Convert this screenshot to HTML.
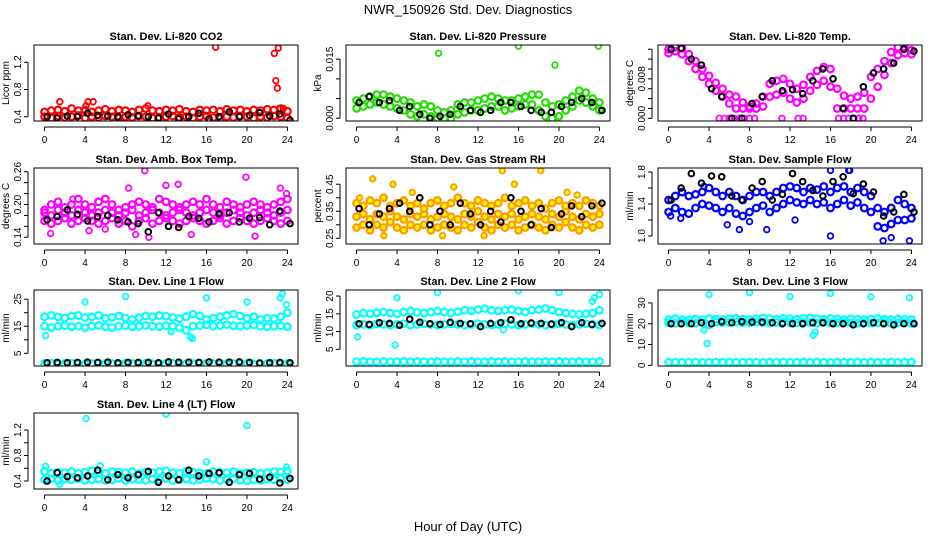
<!DOCTYPE html>
<html><head><meta charset="utf-8"><title>NWR_150926 Std. Dev. Diagnostics</title>
<style>
html,body{margin:0;padding:0;background:#fff;}
svg{display:block;font-family:"Liberation Sans",sans-serif;}
</style></head>
<body>
<svg id="chart" width="936" height="540" viewBox="0 0 936 540">
<rect x="0" y="0" width="936" height="540" fill="#fff"/>
<text x="468" y="14" font-size="13" text-anchor="middle">NWR_150926  Std. Dev. Diagnostics</text>
<text x="468" y="531" font-size="13" text-anchor="middle">Hour of Day (UTC)</text>
</svg>
<script>
// ---- data arrays ----
const hourTicks = [0,4,8,12,16,20,24];
// P1 CO2
const co2Hi=[0.47,0.49,0.5,0.48,0.52,0.49,0.5,0.47,0.49,0.51,0.48,0.5,0.49,0.47,0.5,0.52,0.49,0.48,0.5,0.49,0.51,0.48,0.47,0.5,0.49,0.5,0.48,0.51,0.49,0.5,0.48,0.5,0.49,0.51,0.5,0.52,0.48];
const co2Lo=[0.4,0.38,0.41,0.39,0.4,0.42,0.38,0.4,0.39,0.41,0.4,0.38,0.4,0.39,0.41,0.4,0.38,0.39,0.4,0.41,0.39,0.4,0.38,0.4,0.41,0.39,0.37,0.4,0.39,0.41,0.4,0.38,0.4,0.39,0.41,0.4,0.38];
const co2Black=[0.4,0.38,0.41,0.4,0.45,0.42,0.41,0.4,0.43,0.41,0.4,0.38,0.44,0.37,0.4,0.45,0.37,0.4,0.47,0.4,0.42,0.46,0.41,0.44,0.35];
const co2OutX=[1.5,4.1,4.3,4.8,8.0,10.2,16.9,22.7,22.85,23.0,23.1,23.2,23.6];
const co2OutY=[0.62,0.56,0.62,0.62,0.32,0.56,1.42,1.33,0.93,0.82,1.41,0.52,0.52];
// P2 Pressure
const prHi=[0.0045,0.005,0.0055,0.006,0.006,0.0055,0.005,0.0045,0.004,0.003,0.0035,0.003,0.002,0.0015,0.002,0.0035,0.004,0.004,0.0045,0.005,0.0055,0.005,0.0045,0.0045,0.005,0.0055,0.006,0.006,0.004,0.003,0.0035,0.0045,0.0055,0.007,0.0065,0.005,0.004];
const prLo=[0.0025,0.003,0.0035,0.004,0.0035,0.003,0.0025,0.002,0.001,0.0005,0.001,0.0005,0,0,0,0.001,0.0015,0.002,0.002,0.0025,0.003,0.003,0.002,0.0025,0.003,0.0035,0.0035,0.002,0.0005,0,0.0005,0.002,0.003,0.0045,0.004,0.003,0.002];
const prBlack=[0.004,0.0055,0.004,0.0045,0.002,0.003,0.001,0,0.0005,0.001,0.003,0.002,0.0015,0.002,0.004,0.004,0.003,0.002,0.0015,0.0015,0.003,0.004,0.005,0.004,0.002];
const prOutX=[8.1,16,19.6,23.9];
const prOutY=[0.0165,0.0183,0.0135,0.0183];
// P3 Temp (tick units)
const tpHi=[7.0,7.2,7.1,6.5,5.8,5.0,4.3,3.6,3.0,2.4,2.2,1.6,1.2,1.5,2.2,3.5,3.8,4.0,3.5,3.0,3.4,4.2,4.8,5.2,5.0,3.0,2.3,2.0,2.2,2.6,4.2,5.0,5.8,6.7,7.2,7.1,6.9];
const tpLo=[6.6,6.8,6.5,5.8,5.0,4.2,3.5,2.8,2.2,1.5,1.0,1.0,1.0,1.0,1.2,2.2,2.4,2.6,2.0,1.6,2.0,2.8,3.4,3.8,3.2,1.0,1.0,1.0,1.0,1.0,2.0,3.2,4.4,5.6,6.4,6.6,6.5];
const tpZeroX=[5,5.5,6,6.5,7,7.5,8,8.5,11.2,12.8,13.3,16.8,17.3,17.8,18.3,18.8,19.2];
const tpZeroY=[0,0,0,0,0,0,0,0,0,0,0,0,0,0,0,0,0];
const tpBlack=[7.0,7.1,6.0,5.4,3.0,2.2,0,0,1.5,2.2,3.8,2.8,2.9,2.5,3.8,5.0,4.0,1.0,0,3.2,4.6,5.0,5.6,7.0,6.8];
// P4 Amb box temp
const abHi=[0.19,0.2,0.205,0.195,0.2,0.21,0.2,0.195,0.205,0.21,0.2,0.19,0.195,0.2,0.205,0.2,0.195,0.21,0.205,0.2,0.195,0.2,0.205,0.2,0.21,0.2,0.195,0.205,0.2,0.195,0.2,0.205,0.2,0.195,0.2,0.205,0.21];
const abMid=[0.185,0.18,0.19,0.185,0.18,0.19,0.185,0.18,0.185,0.19,0.185,0.18,0.185,0.19,0.18,0.185,0.19,0.185,0.18,0.185,0.19,0.185,0.18,0.185,0.19,0.185,0.18,0.185,0.19,0.185,0.18,0.185,0.19,0.185,0.18,0.185,0.19];
const abLo=[0.17,0.165,0.17,0.175,0.165,0.17,0.175,0.17,0.165,0.17,0.175,0.165,0.17,0.16,0.17,0.175,0.165,0.17,0.175,0.17,0.165,0.17,0.175,0.17,0.165,0.17,0.175,0.165,0.17,0.175,0.17,0.165,0.17,0.175,0.17,0.165,0.17];
const abOutX=[0.6,2.8,4.4,6.0,8.3,9.0,9.9,10.3,12.0,13.2,14.5,19.9,20.8,23.3,23.9];
const abOutY=[0.147,0.21,0.152,0.155,0.23,0.145,0.262,0.14,0.235,0.237,0.145,0.25,0.142,0.23,0.22];
const abBlack=[0.172,0.178,0.19,0.182,0.17,0.178,0.18,0.172,0.168,0.165,0.15,0.185,0.16,0.158,0.178,0.175,0.168,0.183,0.185,0.168,0.175,0.176,0.163,0.188,0.165];
// P5 RH
const rhHi=[0.38,0.37,0.39,0.38,0.4,0.37,0.38,0.39,0.37,0.38,0.36,0.38,0.39,0.37,0.38,0.4,0.38,0.37,0.39,0.38,0.37,0.38,0.4,0.37,0.38,0.39,0.37,0.38,0.36,0.38,0.39,0.37,0.38,0.37,0.39,0.38,0.37];
const rhMid=[0.33,0.34,0.32,0.34,0.33,0.35,0.33,0.32,0.34,0.33,0.34,0.32,0.33,0.34,0.33,0.32,0.34,0.33,0.35,0.33,0.32,0.34,0.33,0.34,0.32,0.33,0.34,0.33,0.32,0.34,0.33,0.35,0.33,0.32,0.34,0.33,0.34];
const rhLo=[0.29,0.3,0.28,0.3,0.29,0.31,0.29,0.28,0.3,0.29,0.3,0.28,0.29,0.3,0.29,0.28,0.3,0.29,0.31,0.29,0.28,0.3,0.29,0.3,0.28,0.29,0.3,0.29,0.28,0.3,0.29,0.31,0.29,0.28,0.3,0.29,0.3];
const rhOutX=[1.6,3.6,9.6,14.4,15.6,18.2,20.8,12.6,2.7,8.5,0.3,5.5,21.8];
const rhOutY=[0.47,0.45,0.44,0.5,0.45,0.5,0.42,0.26,0.26,0.26,0.4,0.42,0.41];
const rhBlack=[0.36,0.3,0.34,0.36,0.38,0.35,0.4,0.3,0.35,0.3,0.38,0.34,0.3,0.35,0.31,0.4,0.35,0.3,0.36,0.29,0.34,0.37,0.33,0.37,0.38];
// P6 Sample flow
const sfHi=[1.45,1.5,1.55,1.5,1.52,1.55,1.6,1.55,1.5,1.55,1.5,1.45,1.5,1.55,1.55,1.5,1.55,1.6,1.62,1.6,1.55,1.6,1.58,1.62,1.55,1.6,1.62,1.55,1.6,1.55,1.5,1.35,1.3,1.35,1.45,1.4,1.35];
const sfLo=[1.3,1.35,1.3,1.28,1.35,1.4,1.38,1.35,1.3,1.35,1.28,1.25,1.3,1.35,1.38,1.3,1.35,1.4,1.45,1.42,1.4,1.45,1.4,1.42,1.35,1.4,1.45,1.38,1.42,1.35,1.3,1.12,1.1,1.15,1.2,1.2,1.22];
const sfOutX=[0.2,1.2,5.8,7,8,9.7,12.5,16,17.9,21.2,22,23.8,3.5,16,17.8];
const sfOutY=[1.25,1.22,1.14,1.08,1.18,1.08,1.2,1.0,1.82,0.94,0.98,0.94,1.62,1.82,1.82];
const sfBlack=[1.45,1.6,1.78,1.66,1.75,1.74,1.5,1.45,1.6,1.68,1.45,1.52,1.78,1.68,1.57,1.5,1.68,1.74,1.53,1.65,1.55,1.25,1.3,1.52,1.3];
// P7 Line 1
const l1Hi=[18.5,19,18.5,18,18.8,19,18.2,18.5,19,18,18.3,18.8,18,17.5,18.2,18.8,18.5,19,18.7,18.2,17.8,18.5,19.5,18.8,17.5,18,18.5,19,19.5,18.8,18,18.5,17.5,18,17.8,18.5,20];
const l1Mid=[15,14.5,15,15.2,14.8,15,14.5,15,15.3,14.8,14.5,15,15.2,14.8,15,15.3,15,14.8,15.2,15,14.5,13.5,15,15.2,15.5,15,15.3,15.6,15.2,15,15.3,15.5,15,14.8,15,15.2,14.8];
const l1Base=[1.2,1.3,1.1,1.2,1.3,1.2,1.1,1.2,1.3,1.2,1.2,1.1,1.3,1.2,1.2,1.3,1.1,1.2,1.2,1.3,1.2,1.1,1.2,1.3,1.2,1.2,1.3,1.1,1.2,1.3,1.2,1.1,1.2,1.2,1.3,1.2,1.2];
const l1OutX=[0.1,4.0,8.0,14.4,14.6,16.0,20.0,23.3,23.5,23.9,12.5];
const l1OutY=[11.5,24,26,11,10.5,25.5,24,25.5,27,23,13];
const l1Black=[1.5,1.6,1.5,1.6,1.7,1.6,1.7,1.5,1.6,1.6,1.6,1.5,1.8,1.7,1.7,1.6,1.8,1.7,1.7,1.8,1.6,1.4,1.5,1.6,1.5];
// P8 Line 2
const l2Hi=[14.8,15.2,15,15.3,15.5,15.2,15,15.5,15.8,15.4,15.2,15.5,15.8,15.5,15.2,15.6,16,15.8,16.2,16.5,16,15.8,16,16.2,15.8,15.5,16,16.2,16.5,16,15.5,15.2,15,14.8,15,15.2,16];
const l2Mid=[11.8,12,11.8,12.2,12,11.8,12,12.2,11.8,12,12.2,12,11.8,12,12.2,12,11.8,12,12.2,12,11.8,12,12.2,12,11.8,12,12.2,12,11.8,12,12.2,12,11.8,12,12.2,12,11.8];
const l2Base=[1.5,1.6,1.5,1.5,1.6,1.5,1.5,1.6,1.5,1.6,1.5,1.5,1.6,1.5,1.5,1.6,1.5,1.6,1.5,1.5,1.6,1.5,1.6,1.5,1.5,1.6,1.5,1.5,1.6,1.5,1.6,1.5,1.5,1.6,1.5,1.5,1.6];
const l2OutX=[0.1,3.8,4.0,8.0,16.0,20.0,23.3,23.5,24.0,14.5];
const l2OutY=[8.5,6.2,19.5,21,21.5,21,18.5,19.5,20.5,10.5];
const l2Black=[12.2,12,12.5,12.3,11.8,13.5,12.6,12.2,12,12.6,12.3,12.2,11.4,12.3,12.5,13.3,12.2,12.4,12.3,12.1,12.5,11.4,12.5,12.0,12.3];
// P9 Line 3
const l3Hi=[22,22.5,22,21.8,22.3,22,22.5,22.2,22,22.4,22.6,22.2,22,22.4,22.8,22.5,22.2,22.6,22.4,22.2,22.5,22.8,22.4,22.2,22.6,22.3,22,22.4,22.2,22,22.3,22.5,22.2,22,22.3,22.1,22];
const l3Mid=[20.5,20.2,20.6,20.4,20.2,20.5,19.5,20.8,20.5,20.6,20.8,20.4,20.5,20.7,20.5,20.3,20.6,20.8,20.5,20.4,20.6,20.5,20.2,20.6,20.4,20.5,20.6,20.4,20.2,20.5,20.3,20.4,20.6,20.2,20.4,20.5,20.2];
const l3Base=[1.5,1.6,1.5,1.5,1.6,1.5,1.5,1.6,1.5,1.6,1.5,1.5,1.6,1.5,1.5,1.6,1.5,1.6,1.5,1.5,1.6,1.5,1.6,1.5,1.5,1.6,1.5,1.5,1.6,1.5,1.6,1.5,1.5,1.6,1.5,1.5,1.6];
const l3OutX=[4.0,8.0,12.0,16.0,20.0,23.8,3.8,3.5,14.3,14.5];
const l3OutY=[34,35,33,34.5,33,32.5,10.5,17,14.5,16];
const l3Black=[20,20,20,20.5,20,21,20.5,21,20.8,20.8,20.5,20,20,20,20.5,20.5,20,20,19.5,20,20.5,20,19.5,20,20];
// P10 Line 4
const l4Hi=[0.55,0.52,0.54,0.53,0.55,0.52,0.54,0.56,0.53,0.52,0.55,0.54,0.53,0.55,0.52,0.54,0.53,0.55,0.56,0.53,0.52,0.55,0.54,0.53,0.52,0.55,0.54,0.53,0.55,0.52,0.53,0.54,0.52,0.53,0.55,0.54,0.56];
const l4Lo=[0.42,0.44,0.41,0.43,0.42,0.44,0.41,0.42,0.43,0.41,0.42,0.44,0.41,0.43,0.42,0.41,0.43,0.42,0.44,0.41,0.42,0.43,0.41,0.42,0.44,0.43,0.41,0.42,0.43,0.41,0.4,0.42,0.41,0.43,0.42,0.44,0.42];
const l4OutX=[4.1,12.0,20.0,16.0,0.1,5.5,1.5,23.9];
const l4OutY=[1.38,1.45,1.27,0.7,0.63,0.64,0.35,0.62];
const l4Black=[0.4,0.53,0.47,0.45,0.48,0.57,0.42,0.5,0.45,0.5,0.55,0.38,0.48,0.42,0.57,0.48,0.52,0.53,0.38,0.5,0.52,0.43,0.46,0.37,0.44];

// tick arrays
const co2Ticks=[0.4,0.8,1.2], co2Labels=["0.4","0.8","1.2"];
const prTicks=[0,0.005,0.01,0.015], prLabels=["0.000","","","0.015"];
const tpTicks=[0,1,2,3,4,5,6,7], tpLabels=["0.000","","","","0.008","","",""];
const abTicks=[0.14,0.16,0.18,0.2,0.22,0.24,0.26], abLabels=["0.14","","","0.20","","","0.26"];
const rhTicks=[0.25,0.3,0.35,0.4,0.45], rhLabels=["0.25","","0.35","","0.45"];
const sfTicks=[1.0,1.2,1.4,1.6,1.8], sfLabels=["1.0","","1.4","","1.8"];
const l1Ticks=[5,10,15,20,25], l1Labels=["5","","15","","25"];
const l2Ticks=[5,10,15,20], l2Labels=["5","10","15","20"];
const l3Ticks=[0,10,20,30], l3Labels=["0","10","20","30"];
const l4Ticks=[0.4,0.6,0.8,1.0,1.2], l4Labels=["0.4","","0.8","","1.2"];

const RED="#ff0000",GRN="#22dd00",MAG="#ff00ff",ORG="#ff9900",BLU="#0000ff",CYN="#00ffff",BLK="#000000";
const panels=[
 {name:"co2",title:"Stan. Dev. Li-820 CO2",ylab:"Licor ppm",col:0,row:0,ylim:[0.337,1.454],ticks:co2Ticks,labels:co2Labels,
  bands:[[co2Lo,RED],[co2Hi,RED]],out:[co2OutX,co2OutY,RED],black:co2Black},
 {name:"pressure",title:"Stan. Dev. Li-820 Pressure",ylab:"kPa",col:1,row:0,ylim:[-0.0007,0.0186],ticks:prTicks,labels:prLabels,
  bands:[[prLo,GRN],[prHi,GRN]],out:[prOutX,prOutY,GRN],black:prBlack},
 {name:"temp",title:"Stan. Dev. Li-820 Temp.",ylab:"degrees C",col:2,row:0,ylim:[-0.27,7.43],ticks:tpTicks,labels:tpLabels,
  bands:[[tpLo,MAG],[tpHi,MAG]],out:[tpZeroX,tpZeroY,MAG],black:tpBlack},
 {name:"amb-box-temp",title:"Stan. Dev. Amb. Box Temp.",ylab:"degrees C",col:0,row:1,ylim:[0.1277,0.2668],ticks:abTicks,labels:abLabels,
  bands:[[abLo,MAG],[abMid,MAG],[abHi,MAG]],out:[abOutX,abOutY,MAG],black:abBlack},
 {name:"gas-rh",title:"Stan. Dev. Gas Stream RH",ylab:"percent",col:1,row:1,ylim:[0.229,0.51],ticks:rhTicks,labels:rhLabels,
  bands:[[rhLo,ORG],[rhMid,ORG],[rhHi,ORG]],out:[rhOutX,rhOutY,ORG],black:rhBlack,fill:"#ffff00"},
 {name:"sample-flow",title:"Stan. Dev. Sample Flow",ylab:"ml/min",col:2,row:1,ylim:[0.9,1.85],ticks:sfTicks,labels:sfLabels,
  bands:[[sfLo,BLU],[sfHi,BLU]],out:[sfOutX,sfOutY,BLU],black:sfBlack},
 {name:"line1-flow",title:"Stan. Dev. Line 1 Flow",ylab:"ml/min",col:0,row:2,ylim:[0.3,28.4],ticks:l1Ticks,labels:l1Labels,
  bands:[[l1Base,CYN],[l1Mid,CYN],[l1Hi,CYN]],out:[l1OutX,l1OutY,CYN],black:l1Black},
 {name:"line2-flow",title:"Stan. Dev. Line 2 Flow",ylab:"ml/min",col:1,row:2,ylim:[0.3,21.7],ticks:l2Ticks,labels:l2Labels,
  bands:[[l2Base,CYN],[l2Mid,CYN],[l2Hi,CYN]],out:[l2OutX,l2OutY,CYN],black:l2Black},
 {name:"line3-flow",title:"Stan. Dev. Line 3 Flow",ylab:"ml/min",col:2,row:2,ylim:[-0.3,36.2],ticks:l3Ticks,labels:l3Labels,
  bands:[[l3Base,CYN],[l3Mid,CYN],[l3Hi,CYN]],out:[l3OutX,l3OutY,CYN],black:l3Black},
 {name:"line4-flow",title:"Stan. Dev. Line 4 (LT) Flow",ylab:"ml/min",col:0,row:3,ylim:[0.275,1.467],ticks:l4Ticks,labels:l4Labels,
  bands:[[l4Lo,CYN],[l4Hi,CYN]],out:[l4OutX,l4OutY,CYN],black:l4Black}
];

const svg=document.getElementById('chart');
const NS="http://www.w3.org/2000/svg";
const colLeft=[34,346,658], rowTop=[45,168,290,413], PW=264, PH=76;
function mk(tag,attrs,parent){const e=document.createElementNS(NS,tag);for(const k in attrs)e.setAttribute(k,attrs[k]);parent.appendChild(e);return e;}

panels.forEach(p=>{
  const L=colLeft[p.col],T=rowTop[p.row];
  const g=mk('g',{},svg);
  
  
  const pad=PW*0.04;
  const xs=h=>L+pad+(PW-2*pad)*h/24;
  const ys=v=>T+PH-(v-p.ylim[0])/(p.ylim[1]-p.ylim[0])*PH;
  const t=mk('text',{x:L+PW/2,y:T-5,'font-size':'11','font-weight':'bold','text-anchor':'middle'},g);
  t.textContent=p.title;
  
  
  const yl=mk('text',{x:0,y:0,'font-size':'10','text-anchor':'middle',transform:`translate(${L-25},${T+PH/2}) rotate(-90)`},g);
  yl.textContent=p.ylab;
  
  
  // x axis
  const xa=mk('g',{},g);
  
  
  mk('line',{x1:xs(0),x2:xs(24),y1:T+PH+6,y2:T+PH+6,stroke:'#000','stroke-width':1},xa);
  hourTicks.forEach(h=>{
    mk('line',{x1:xs(h),x2:xs(h),y1:T+PH+6,y2:T+PH+10,stroke:'#000','stroke-width':1},xa);
    const tl=mk('text',{x:xs(h),y:T+PH+22,'font-size':'10','text-anchor':'middle'},xa);
    tl.textContent=String(h);
    
    
  });
  // y axis
  const ya=mk('g',{},g);
  
  
  mk('line',{x1:L-6,x2:L-6,y1:ys(p.ticks[0]),y2:ys(p.ticks[p.ticks.length-1]),stroke:'#000','stroke-width':1},ya);
  p.ticks.forEach((v,i)=>{
    mk('line',{x1:L-10,x2:L-6,y1:ys(v),y2:ys(v),stroke:'#000','stroke-width':1},ya);
    if(p.labels[i]){
      const tl=mk('text',{x:0,y:0,'font-size':'10','text-anchor':'middle',transform:`translate(${L-13},${ys(v)}) rotate(-90)`},ya);
      tl.textContent=p.labels[i];
      
      
    }
  });
  // clip
  const cid='clip-'+p.name;
  const cp=mk('clipPath',{id:cid},g);
  mk('rect',{x:L,y:T,width:PW,height:PH},cp);
  const pg=mk('g',{'clip-path':`url(#${cid})`},g);
  const fill=p.fill||'none';
  p.bands.forEach((b,bi)=>{
    const vals=b[0],n=vals.length;
    vals.forEach((v,i)=>{
      const c=mk('circle',{cx:xs(24*i/(n-1)),cy:ys(v),r:3.3,fill:fill,stroke:b[1],'stroke-width':2.2},pg);
      
      
    });
  });
  p.out[0].forEach((x,i)=>{
    const c=mk('circle',{cx:xs(x),cy:ys(p.out[1][i]),r:2.8,fill:fill,stroke:p.out[2],'stroke-width':1.8},pg);
    
    
  });
  const nb=p.black.length;
  p.black.forEach((v,i)=>{
    const c=mk('circle',{cx:xs(24*i/(nb-1)+0.25),cy:ys(v),r:2.8,fill:'none',stroke:BLK,'stroke-width':2},pg);
    
    
  });
  const box=mk('rect',{x:L,y:T,width:PW,height:PH,fill:'none',stroke:'#000','stroke-width':1},g);
  
  
});
</script>
</body></html>
